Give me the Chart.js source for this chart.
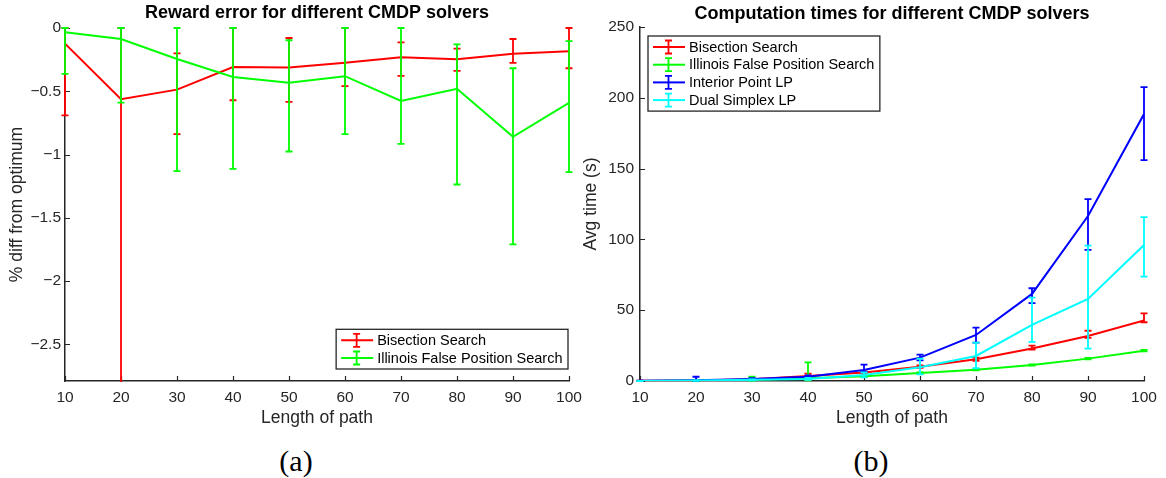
<!DOCTYPE html>
<html>
<head>
<meta charset="utf-8">
<script src="https://cdn.jsdelivr.net/npm/chart.js@4.4.1/dist/chart.umd.min.js"></script>
<style>
  html, body { margin: 0; padding: 0; background: #fff; }
  #wrap { position: relative; width: 1166px; height: 478px; overflow: hidden; background: #fff; }
  canvas { position: absolute; top: 0; }
  .caption { position: absolute; top: 446px; width: 100px; text-align: center;
             font-family: "Liberation Serif", "DejaVu Serif", serif; font-size: 30px; line-height: 30px; color: #000; }
</style>
</head>
<body>
<div id="wrap">
  <canvas id="rewardChart" width="600" height="430" style="left:0px"></canvas>
  <canvas id="timeChart" width="586" height="430" style="left:580px"></canvas>
  <div class="caption" style="left:246px">(a)</div>
  <div class="caption" style="left:821px">(b)</div>
</div>
<script>
// ---- data ----
const pathLength = [10, 20, 30, 40, 50, 60, 70, 80, 90, 100];

// (a) reward error, % difference from optimum (mean, lower and upper bar ends)
const bisectErrMean    = [-0.124, -0.563, -0.487, -0.308, -0.313, -0.274, -0.231, -0.247, -0.203, -0.184];
const bisectErrLower   = [-0.69, -3.0, -0.839, -0.571, -0.584, -0.46, -0.379, -0.339, -0.276, -0.318];
const bisectErrUpper   = [0, 0, -0.2, 0, -0.079, 0, -0.113, -0.163, -0.087, 0];
const illinoisErrMean  = [-0.034, -0.087, -0.245, -0.387, -0.432, -0.381, -0.576, -0.481, -0.86, -0.592];
const illinoisErrLower = [-0.363, -0.59, -1.131, -1.113, -0.976, -0.839, -0.916, -1.237, -1.71, -1.139];
const illinoisErrUpper = [0, 0, 0, 0, -0.097, 0, 0, -0.129, -0.318, -0.103];

// (b) average computation time in seconds
const bisectTimeMean    = [0.1, 0.4, 1.2, 3.5, 6.0, 10.1, 15.3, 22.9, 31.8, 42.8];
const bisectTimeLower   = [0.05, 0.2, 0.8, 2.5, 5.2, 9.2, 14.2, 22.2, 30.5, 41.5];
const bisectTimeUpper   = [0.2, 0.6, 1.6, 5.2, 6.8, 11.0, 16.5, 25.0, 35.5, 47.8];
const illinoisTimeMean  = [0.05, 0.2, 0.9, 2.0, 3.3, 5.6, 8.0, 11.3, 15.8, 21.4];
const illinoisTimeLower = [0, 0.1, 0.2, 0.5, 2.8, 5.1, 7.5, 10.8, 15.3, 20.9];
const illinoisTimeUpper = [0.1, 0.4, 3.0, 13.2, 3.8, 6.1, 8.5, 11.8, 16.3, 21.9];
const interiorTimeMean  = [0.1, 0.6, 1.5, 3.0, 7.8, 16.5, 32.5, 61.5, 116.5, 188.5];
const interiorTimeLower = [0.05, 0.1, 1.0, 2.0, 6.5, 14.5, 27.1, 55.0, 92.6, 156.0];
const interiorTimeUpper = [0.2, 3.0, 2.0, 4.0, 11.5, 18.6, 37.7, 65.5, 128.4, 207.5];
const simplexTimeMean   = [0.05, 0.3, 0.8, 1.5, 4.2, 9.7, 17.7, 39.6, 58.0, 96.0];
const simplexTimeLower  = [0, 0.1, 0.5, 0.8, 2.5, 4.7, 9.0, 27.6, 22.8, 73.7];
const simplexTimeUpper  = [0.1, 0.5, 1.1, 2.2, 6.0, 15.8, 27.1, 58.9, 95.6, 115.8];

// tick labels
const rewardTicks = [-2.5, -2, -1.5, -1, -0.5, 0];
const timeTicks = [0, 50, 100, 150, 200, 250];

// ---- styling ----
const FONT = '"Liberation Sans", Arial, Helvetica, sans-serif';
const AXIS = '#262626';
const RED = '#ff0000', GREEN = '#00ff00', BLUE = '#0000ff', CYAN = '#00ffff';

function series(label, color, mean, lower, upper) {
  return {
    label,
    borderColor: color,
    backgroundColor: color,
    data: pathLength.map((x, i) => ({ x, y: mean[i] })),
    lower, upper,
    borderWidth: 2,
    pointRadius: 0,
    tension: 0,
    fill: false
  };
}

// later series are painted on top of earlier ones
function stackOrder(list) {
  list.forEach((d, i) => { d.order = list.length - i; });
  return list;
}

function fmtTick(v) {
  return v < 0 ? '\u2212' + String(Math.abs(v)) : String(v);
}

// vertical error bars with caps, drawn right after each line
const errorBars = {
  id: 'errorBars',
  afterDatasetDraw(chart, args) {
    const ds = chart.data.datasets[args.index];
    const { ctx, chartArea: a } = chart;
    const y = chart.scales.y;
    ctx.save();
    ctx.beginPath();
    ctx.rect(0, a.top - 2, chart.width, a.bottom - a.top + 3);
    ctx.clip();
    ctx.strokeStyle = ds.borderColor;
    ctx.lineWidth = 1.8;
    args.meta.data.forEach((pt, i) => {
      const lo = y.getPixelForValue(ds.lower[i]);
      const hi = y.getPixelForValue(ds.upper[i]);
      ctx.beginPath();
      ctx.moveTo(pt.x, lo); ctx.lineTo(pt.x, hi);
      ctx.moveTo(pt.x - 3.5, lo); ctx.lineTo(pt.x + 3.5, lo);
      ctx.moveTo(pt.x - 3.5, hi); ctx.lineTo(pt.x + 3.5, hi);
      ctx.stroke();
    });
    ctx.restore();
  }
};

// tick marks pointing into the plot area
const innerTicks = {
  id: 'innerTicks',
  beforeDatasetsDraw(chart) {
    const { ctx, chartArea: a } = chart;
    const { x, y } = chart.scales;
    ctx.save();
    ctx.strokeStyle = AXIS;
    ctx.lineWidth = 1.2;
    ctx.beginPath();
    x.ticks.forEach(t => {
      const px = Math.round(x.getPixelForValue(t.value)) + 0.5;
      ctx.moveTo(px, a.bottom); ctx.lineTo(px, a.bottom - 5);
    });
    y.ticks.forEach(t => {
      const py = Math.round(y.getPixelForValue(t.value)) + 0.5;
      ctx.moveTo(a.left, py); ctx.lineTo(a.left + 5, py);
    });
    ctx.stroke();
    ctx.restore();
  }
};

// bold title centred over the plot area
const plotTitle = {
  id: 'plotTitle',
  afterDraw(chart, args, opts) {
    const { ctx, chartArea: a } = chart;
    ctx.save();
    ctx.font = 'bold 18px ' + FONT;
    ctx.fillStyle = '#000';
    ctx.textAlign = 'center';
    ctx.textBaseline = 'middle';
    ctx.fillText(opts.text, (a.left + a.right) / 2, opts.y);
    ctx.restore();
  }
};

// boxed legend with error-bar samples
const boxLegend = {
  id: 'boxLegend',
  afterDraw(chart, args, opts) {
    const { ctx, chartArea: a } = chart;
    const items = chart.data.datasets;
    const rowH = 17.7, padV = 2.15, textOff = 41, padR = 5.5;
    ctx.save();
    ctx.font = '14.5px ' + FONT;
    const textW = Math.max(...items.map(d => ctx.measureText(d.label).width));
    const w = textOff + textW + padR;
    const h = items.length * rowH + padV * 2;
    let left, top;
    if (opts.corner === 'se') { left = a.right - opts.dx - w; top = a.bottom - opts.dy - h; }
    else { left = a.left + opts.dx; top = a.top + opts.dy; }
    ctx.fillStyle = '#fff';
    ctx.fillRect(left, top, w, h);
    ctx.strokeStyle = AXIS;
    ctx.lineWidth = 1.3;
    ctx.strokeRect(left, top, w, h);
    items.forEach((d, i) => {
      const cy = top + padV + rowH * (i + 0.5);
      const cx = left + 20.5;
      ctx.strokeStyle = d.borderColor;
      ctx.lineWidth = 2;
      ctx.beginPath();
      ctx.moveTo(left + 5, cy); ctx.lineTo(left + 37, cy);
      ctx.stroke();
      ctx.lineWidth = 1.8;
      ctx.beginPath();
      ctx.moveTo(cx, cy - 6.5); ctx.lineTo(cx, cy + 6.5);
      ctx.moveTo(cx - 3.5, cy - 6.5); ctx.lineTo(cx + 3.5, cy - 6.5);
      ctx.moveTo(cx - 3.5, cy + 6.5); ctx.lineTo(cx + 3.5, cy + 6.5);
      ctx.stroke();
      ctx.fillStyle = '#000';
      ctx.textAlign = 'left';
      ctx.textBaseline = 'middle';
      ctx.fillText(d.label, left + textOff, cy + 0.5);
    });
    ctx.restore();
  }
};

function buildChart(canvasId, cfg) {
  return new Chart(document.getElementById(canvasId), {
    type: 'line',
    data: { datasets: stackOrder(cfg.datasets) },
    options: {
      responsive: false,
      animation: false,
      events: [],
      devicePixelRatio: 1,
      layout: { padding: { left: 0, top: cfg.padTop, right: cfg.padRight, bottom: 0 } },
      plugins: {
        legend: { display: false },
        tooltip: { enabled: false },
        title: { display: false },
        plotTitle: { text: cfg.title, y: cfg.titleY },
        boxLegend: cfg.legend
      },
      scales: {
        x: {
          type: 'linear',
          min: 10, max: 100,
          afterBuildTicks: s => { s.ticks = pathLength.map(v => ({ value: v })); },
          afterFit: s => { s.height = 49; },
          grid: { display: false, drawTicks: false },
          border: { display: true, color: AXIS, width: 1.5 },
          ticks: { padding: 7, color: AXIS, maxRotation: 0, autoSkip: false,
                   font: { family: FONT, size: 15.5 } },
          title: { display: true, text: 'Length of path', color: AXIS,
                   font: { family: FONT, size: 17.5 }, padding: { top: 0, bottom: 1 } }
        },
        y: {
          type: 'linear',
          min: cfg.yMin, max: cfg.yMax,
          afterBuildTicks: s => { s.ticks = cfg.yTicks.map(v => ({ value: v })); },
          afterFit: s => { s.width = cfg.yWidth; },
          grid: { display: false, drawTicks: false },
          border: { display: true, color: AXIS, width: 1.5 },
          ticks: { padding: cfg.yTickPad, color: AXIS, callback: v => fmtTick(v),
                   font: { family: FONT, size: 15.5 } },
          title: { display: true, text: cfg.yTitle, color: AXIS,
                   font: { family: FONT, size: 17.5 }, padding: { top: cfg.yTitlePad, bottom: 0 } }
        }
      }
    },
    plugins: [innerTicks, errorBars, plotTitle, boxLegend]
  });
}

buildChart('rewardChart', {
  datasets: [
    series('Bisection Search', RED, bisectErrMean, bisectErrLower, bisectErrUpper),
    series('Illinois False Position Search', GREEN, illinoisErrMean, illinoisErrLower, illinoisErrUpper)
  ],
  title: 'Reward error for different CMDP solvers',
  titleY: 13,
  padTop: 28, padRight: 31,
  yMin: -2.79, yMax: 0, yTicks: rewardTicks,
  yWidth: 65, yTickPad: 4, yTitlePad: 7,
  yTitle: '% diff from optimum',
  legend: { corner: 'se', dx: 1, dy: 12 }
});

buildChart('timeChart', {
  datasets: [
    series('Bisection Search', RED, bisectTimeMean, bisectTimeLower, bisectTimeUpper),
    series('Illinois False Position Search', GREEN, illinoisTimeMean, illinoisTimeLower, illinoisTimeUpper),
    series('Interior Point LP', BLUE, interiorTimeMean, interiorTimeLower, interiorTimeUpper),
    series('Dual Simplex LP', CYAN, simplexTimeMean, simplexTimeLower, simplexTimeUpper)
  ],
  title: 'Computation times for different CMDP solvers',
  titleY: 14,
  padTop: 27, padRight: 22,
  yMin: 0, yMax: 250, yTicks: timeTicks,
  yWidth: 60, yTickPad: 6, yTitlePad: 0.5,
  yTitle: 'Avg time (s)',
  legend: { corner: 'nw', dx: 8, dy: 9 }
});
</script>
</body>
</html>
